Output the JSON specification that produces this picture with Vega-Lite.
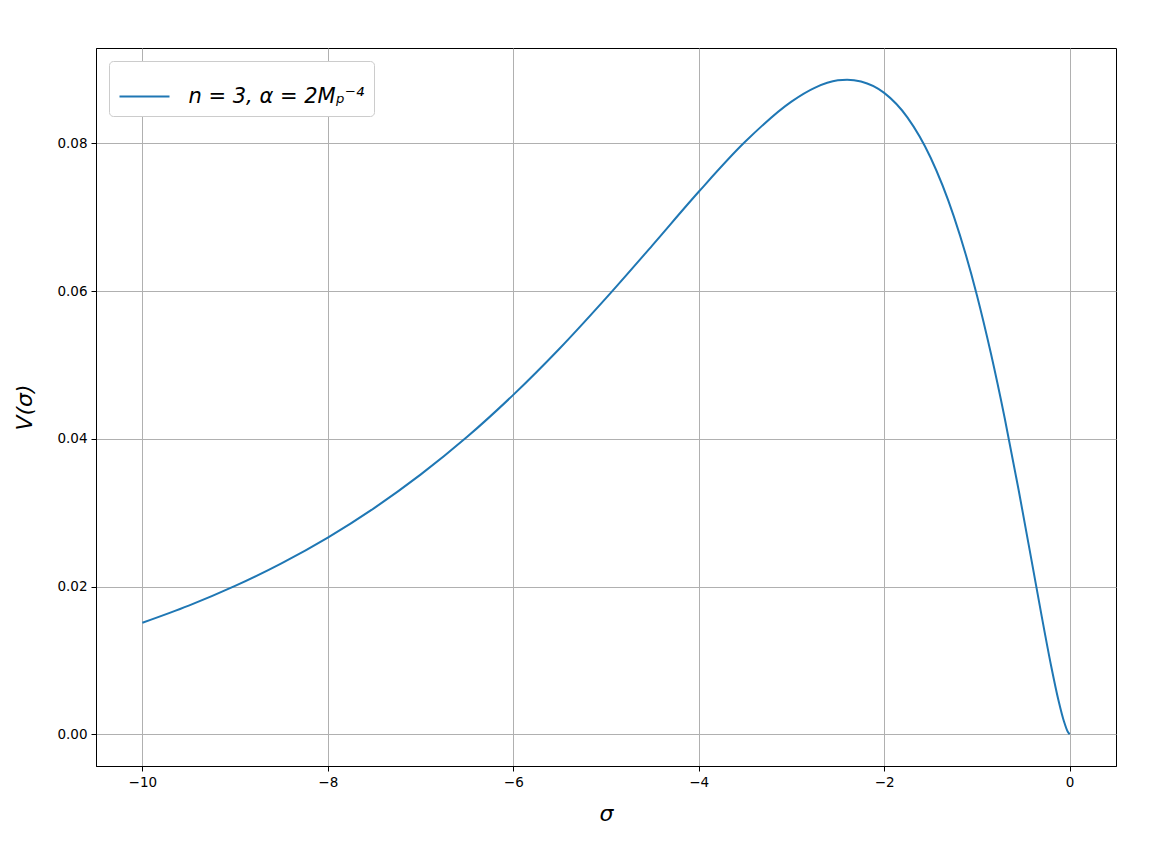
{
  "$schema": "https://vega.github.io/schema/vega-lite/v6.json",
  "width": 1020,
  "height": 718,
  "autosize": {"type": "none"},
  "padding": {"left": 96, "top": 48, "right": 34, "bottom": 84},
  "background": "white",
  "config": {
    "font": "DejaVu Sans",
    "view": {"stroke": "black", "strokeWidth": 1},
    "axis": {
      "domainColor": "black",
      "domainWidth": 1,
      "tickColor": "black",
      "tickSize": 5,
      "tickWidth": 1,
      "labelFont": "DejaVu Sans",
      "labelFontSize": 13.5,
      "labelColor": "black",
      "labelPadding": 4,
      "gridColor": "#b0b0b0",
      "gridWidth": 1,
      "gridOpacity": 1,
      "titleFont": "DejaVu Sans",
      "titleFontSize": 22,
      "titleFontWeight": "normal",
      "titleFontStyle": "italic",
      "titleColor": "black"
    }
  },
  "data": {
    "values": [
      {"sigma": -10.0, "V": 0.01509, "series": "n = 3, α = 2Mₚ⁻⁴"},
      {"sigma": -9.5, "V": 0.01741, "series": "n = 3, α = 2Mₚ⁻⁴"},
      {"sigma": -9.0, "V": 0.02008, "series": "n = 3, α = 2Mₚ⁻⁴"},
      {"sigma": -8.5, "V": 0.02314, "series": "n = 3, α = 2Mₚ⁻⁴"},
      {"sigma": -8.0, "V": 0.02663, "series": "n = 3, α = 2Mₚ⁻⁴"},
      {"sigma": -7.5, "V": 0.03062, "series": "n = 3, α = 2Mₚ⁻⁴"},
      {"sigma": -7.0, "V": 0.03514, "series": "n = 3, α = 2Mₚ⁻⁴"},
      {"sigma": -6.5, "V": 0.04023, "series": "n = 3, α = 2Mₚ⁻⁴"},
      {"sigma": -6.0, "V": 0.04594, "series": "n = 3, α = 2Mₚ⁻⁴"},
      {"sigma": -5.5, "V": 0.05222, "series": "n = 3, α = 2Mₚ⁻⁴"},
      {"sigma": -5.0, "V": 0.05904, "series": "n = 3, α = 2Mₚ⁻⁴"},
      {"sigma": -4.5, "V": 0.06619, "series": "n = 3, α = 2Mₚ⁻⁴"},
      {"sigma": -4.0, "V": 0.07344, "series": "n = 3, α = 2Mₚ⁻⁴"},
      {"sigma": -3.5, "V": 0.0802, "series": "n = 3, α = 2Mₚ⁻⁴"},
      {"sigma": -3.0, "V": 0.08565, "series": "n = 3, α = 2Mₚ⁻⁴"},
      {"sigma": -2.75, "V": 0.08751, "series": "n = 3, α = 2Mₚ⁻⁴"},
      {"sigma": -2.5, "V": 0.08852, "series": "n = 3, α = 2Mₚ⁻⁴"},
      {"sigma": -2.4, "V": 0.0886, "series": "n = 3, α = 2Mₚ⁻⁴"},
      {"sigma": -2.25, "V": 0.08836, "series": "n = 3, α = 2Mₚ⁻⁴"},
      {"sigma": -2.0, "V": 0.08682, "series": "n = 3, α = 2Mₚ⁻⁴"},
      {"sigma": -1.75, "V": 0.08351, "series": "n = 3, α = 2Mₚ⁻⁴"},
      {"sigma": -1.5, "V": 0.07807, "series": "n = 3, α = 2Mₚ⁻⁴"},
      {"sigma": -1.25, "V": 0.07014, "series": "n = 3, α = 2Mₚ⁻⁴"},
      {"sigma": -1.0, "V": 0.05944, "series": "n = 3, α = 2Mₚ⁻⁴"},
      {"sigma": -0.85, "V": 0.0516, "series": "n = 3, α = 2Mₚ⁻⁴"},
      {"sigma": -0.7, "V": 0.04278, "series": "n = 3, α = 2Mₚ⁻⁴"},
      {"sigma": -0.55, "V": 0.03307, "series": "n = 3, α = 2Mₚ⁻⁴"},
      {"sigma": -0.4, "V": 0.02279, "series": "n = 3, α = 2Mₚ⁻⁴"},
      {"sigma": -0.3, "V": 0.01589, "series": "n = 3, α = 2Mₚ⁻⁴"},
      {"sigma": -0.2, "V": 0.00928, "series": "n = 3, α = 2Mₚ⁻⁴"},
      {"sigma": -0.12, "V": 0.00457, "series": "n = 3, α = 2Mₚ⁻⁴"},
      {"sigma": -0.06, "V": 0.00169, "series": "n = 3, α = 2Mₚ⁻⁴"},
      {"sigma": -0.02, "V": 0.00033, "series": "n = 3, α = 2Mₚ⁻⁴"},
      {"sigma": 0.0, "V": 0.0, "series": "n = 3, α = 2Mₚ⁻⁴"}
    ]
  },
  "mark": {"type": "line", "interpolate": "monotone", "strokeWidth": 2, "clip": true},
  "encoding": {
    "x": {
      "field": "sigma",
      "type": "quantitative",
      "scale": {"domain": [-10.5, 0.5], "nice": false, "zero": false},
      "axis": {"values": [-10, -8, -6, -4, -2, 0], "format": "d", "title": "σ", "titlePadding": 15, "labelExpr": "replace(datum.label, '-', '−')"}
    },
    "y": {
      "field": "V",
      "type": "quantitative",
      "scale": {"domain": [-0.0043, 0.0929], "nice": false, "zero": false},
      "axis": {"values": [0, 0.02, 0.04, 0.06, 0.08], "format": ".2f", "title": "V(σ)", "titlePadding": 20}
    },
    "color": {
      "field": "series",
      "type": "nominal",
      "scale": {"range": ["#1f77b4"]},
      "legend": {
        "title": null,
        "orient": "top-left",
        "offset": 13,
        "symbolType": "stroke",
        "symbolSize": 2500,
        "symbolStrokeWidth": 2,
        "labelFontSize": 21,
        "labelFont": "DejaVu Sans",
        "labelFontStyle": "italic",
        "labelColor": "black",
        "labelOffset": 18,
        "labelLimit": 400,
        "padding": 9.5,
        "strokeColor": "#cccccc",
        "fillColor": "white",
        "cornerRadius": 4
      }
    }
  }
}
